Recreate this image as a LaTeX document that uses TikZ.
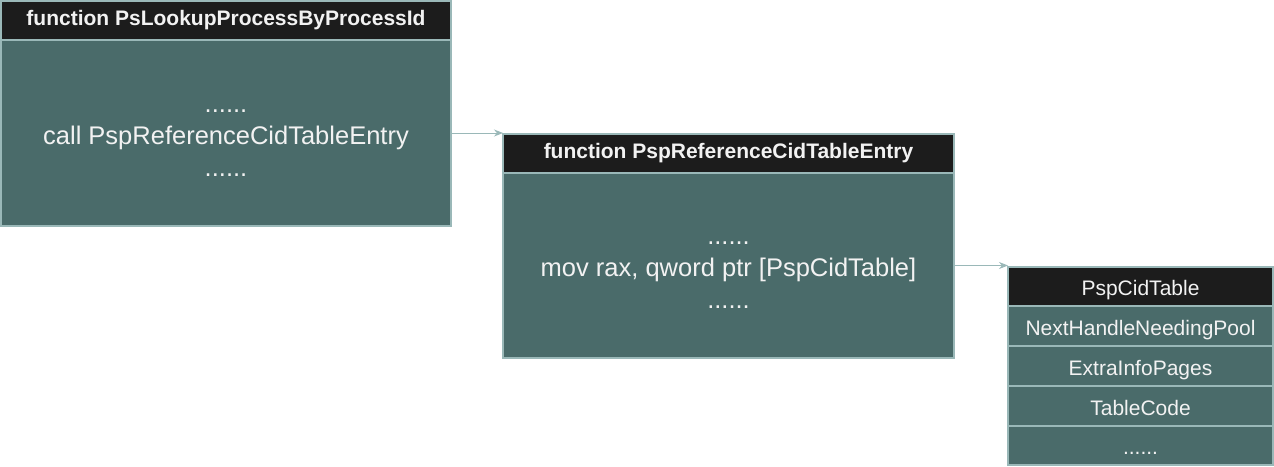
\documentclass[tikz,border=0pt]{standalone}
\usepackage{fontspec}
\setmainfont{Liberation Sans}
\usetikzlibrary{arrows.meta}
\definecolor{headfill}{HTML}{1C1C1C}
\definecolor{bodyfill}{HTML}{4A6B6A}
\definecolor{edgeline}{HTML}{9AB8B8}
\definecolor{textwhite}{HTML}{F2F2F2}
\begin{document}
\begin{tikzpicture}[x = 1pt, y = -1pt,
  cell/.style = {draw = edgeline, line width = 1.2pt, anchor = north west, inner sep = 0pt, outer sep = 0pt, text = textwhite, align = center},
  headcell/.style = {cell, fill = headfill, font = \fontsize{21}{25}\selectfont\bfseries},
  codecell/.style = {cell, fill = bodyfill, font = \fontsize{25.5}{32}\selectfont, text height = 86pt, text depth = 0pt},
  tabhead/.style = {cell, fill = headfill, minimum width = 265pt, minimum height = 39pt, font = \fontsize{21}{25}\selectfont, text height = 20pt, text depth = 2pt},
  tabrow/.style = {tabhead, fill = bodyfill, minimum height = 40pt},
  link/.style = {draw = edgeline, line width = 1pt, -{Stealth[length = 9pt, width = 7pt]}}]
\useasboundingbox (0,0) rectangle (1274,466);
\node[codecell, minimum width = 450pt, minimum height = 186pt] at (1,40) (fn1body) {......\\call PspReferenceCidTableEntry\\......};
\node[headcell, minimum width = 450pt, minimum height = 39pt] at (1,1) (fn1head) {function PsLookupProcessByProcessId};
\node[codecell, minimum width = 451pt, minimum height = 185pt] at (503,173) (fn2body) {......\\mov rax, qword ptr [PspCidTable]\\......};
\node[headcell, minimum width = 451pt, minimum height = 39pt] at (503,134) (fn2head) {function PspReferenceCidTableEntry};
\node[tabrow, minimum height = 39pt] at (1008,426) (row4) {......};
\node[tabrow] at (1008,386) (row3) {TableCode};
\node[tabrow] at (1008,346) (row2) {ExtraInfoPages};
\node[tabrow] at (1008,306) (row1) {NextHandleNeedingPool};
\node[tabhead] at (1008,267) (cidtab) {PspCidTable};
\draw[link] (fn1body.east) -- (fn1body.east -| fn2head.west);
\draw[link] (fn2body.east) -- (fn2body.east -| cidtab.west);
\end{tikzpicture}
\end{document}
